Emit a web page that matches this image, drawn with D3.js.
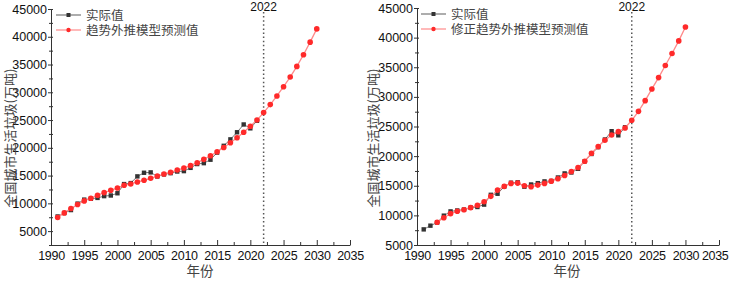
<!DOCTYPE html>
<html>
<head>
<meta charset="utf-8">
<script src="https://cdn.jsdelivr.net/npm/d3@7"></script>
<style>
  body { margin: 0; background: #fff; }
  svg { display: block; }
</style>
</head>
<body>
<svg id="chart" width="729" height="281"></svg>
<script>
// actual municipal solid waste, 1991-2021 (10k tons)
const actualYears = d3.range(1991, 2022);
const actualValues = [7636, 8262, 8791, 9952, 10671, 10825, 10982, 11302, 11415, 11819,
  13470, 13650, 14857, 15509, 15577, 14841, 15215, 15438, 15734, 15805,
  16395, 17081, 17239, 17860, 19142, 20362, 21521, 22802, 24206, 23512, 24869];

// left: trend extrapolation model
const trendYears = d3.range(1991, 2031);
const trendValues = [7460, 8280, 9070, 9790, 10440, 10920, 11460, 11940, 12350, 12770,
  13250, 13490, 13850, 14150, 14510, 14920, 15280, 15580, 16000, 16360,
  16790, 17320, 17920, 18580, 19300, 20070, 20910, 21810, 22810, 23890,
  25000, 26350, 27780, 29340, 31010, 32750, 34660, 36750, 39030, 41420];

// right: corrected trend extrapolation model
const fixedYears = d3.range(1993, 2031);
const fixedValues = [8830, 9610, 10290, 10690, 10960, 11300, 11700, 12310,
  13210, 14270, 14900, 15400, 15450, 15000, 14830, 15110, 15400, 15780,
  16170, 16740, 17410, 18080, 19140, 20480, 21610, 22670, 23570, 24130,
  24750, 26050, 27560, 29360, 31340, 33250, 35290, 37310, 39450, 41790];

const xTicks = d3.range(1990, 2036, 5);
const yTicks = d3.range(5000, 45001, 5000);
const markYear = 2022;

const svg = d3.select('#chart');
const cjk = '"Noto Sans CJK SC", sans-serif';
const num = '"Liberation Sans", Arial, sans-serif';

function drawPanel(cfg) {
  var g = svg.append('g');
  var x = d3.scaleLinear().domain([1990, 2035]).range([cfg.x0, cfg.x1]);
  var y = d3.scaleLinear().domain(cfg.yDomain).range([cfg.y0, cfg.y1]);

  // x axis, ticks pointing inward
  var xa = g.append('g').attr('transform', 'translate(0,' + cfg.y0 + ')');
  xa.call(d3.axisBottom(x).tickValues(xTicks).tickFormat(d3.format('d'))
    .tickSizeInner(-5).tickSizeOuter(0).tickPadding(6));
  xa.selectAll('.tick text').attr('letter-spacing', -0.3);
  if (cfg.x1 > 700) {
    // keep the last label inside the window
    xa.selectAll('.tick text').filter(function (d) { return d === 2035; })
      .attr('text-anchor', 'end').attr('dx', 9);
  }
  xa.append('g').call(d3.axisBottom(x).tickValues(d3.range(1992.5, 2035, 5))
    .tickSizeInner(-3).tickSizeOuter(0).tickFormat(''))
    .select('.domain').remove();

  // y axis, ticks crossing the line
  var ya = g.append('g').attr('transform', 'translate(' + cfg.x0 + ',0)');
  ya.call(d3.axisLeft(y).tickValues(yTicks).tickFormat(d3.format('d'))
    .tickSizeInner(3).tickSizeOuter(0).tickPadding(1));
  var minorY = d3.range(2500, 45001, 2500).filter(function (v) { return v >= cfg.yDomain[0]; });
  ya.append('g').call(d3.axisRight(y).tickValues(minorY).tickSizeInner(2)
    .tickSizeOuter(0).tickFormat('')).select('.domain').remove();
  ya.append('g').call(d3.axisLeft(y).tickValues(minorY.filter(function (v) { return v % 5000; }))
    .tickSizeInner(2).tickSizeOuter(0).tickFormat('')).select('.domain').remove();

  g.selectAll('.domain').attr('stroke', '#333');
  g.selectAll('.tick line').attr('stroke', '#333');
  g.selectAll('.tick text').attr('font-family', num).attr('font-size', 12.5).attr('fill', '#111');

  // dotted line at 2022
  g.append('line')
    .attr('x1', x(markYear)).attr('x2', x(markYear))
    .attr('y1', 12).attr('y2', cfg.y0)
    .attr('stroke', '#555').attr('stroke-width', 1.5)
    .attr('stroke-dasharray', '1.5,2.6');
  g.append('text')
    .attr('x', x(markYear)).attr('y', 11)
    .attr('text-anchor', 'middle')
    .attr('font-family', num).attr('font-size', 12).attr('fill', '#111')
    .text(markYear);

  var line = d3.line()
    .x(function (d) { return x(d[0]); })
    .y(function (d) { return y(d[1]); });

  var actual = d3.zip(actualYears, actualValues);
  var fit = d3.zip(cfg.fitYears, cfg.fitValues);

  g.append('path').datum(actual).attr('d', line)
    .attr('fill', 'none').attr('stroke', '#777').attr('stroke-width', 1);
  g.selectAll('.sq').data(actual).enter().append('rect')
    .attr('x', function (d) { return x(d[0]) - 2.2; })
    .attr('y', function (d) { return y(d[1]) - 2.2; })
    .attr('width', 4.4).attr('height', 4.4)
    .attr('fill', '#333');

  g.append('path').datum(fit).attr('d', line)
    .attr('fill', 'none').attr('stroke', '#ff8a8a').attr('stroke-width', 1.3);
  g.selectAll('.dot').data(fit).enter().append('circle')
    .attr('cx', function (d) { return x(d[0]); })
    .attr('cy', function (d) { return y(d[1]); })
    .attr('r', 2.8)
    .attr('fill', '#ff2a2a');

  // legend
  var items = [
    { label: '实际值', line: '#777', mark: '#333', square: true },
    { label: cfg.fitLabel, line: '#ff8a8a', mark: '#ff2a2a', square: false }
  ];
  items.forEach(function (it, i) {
    var ly = cfg.legendY + i * 15;
    g.append('line')
      .attr('x1', cfg.legendX).attr('x2', cfg.legendX + 25)
      .attr('y1', ly).attr('y2', ly)
      .attr('stroke', it.line).attr('stroke-width', 1.2);
    if (it.square) {
      g.append('rect').attr('x', cfg.legendX + 10.5).attr('y', ly - 2)
        .attr('width', 4).attr('height', 4).attr('fill', it.mark);
    } else {
      g.append('circle').attr('cx', cfg.legendX + 12.5).attr('cy', ly)
        .attr('r', 2.2).attr('fill', it.mark);
    }
    g.append('text')
      .attr('x', cfg.legendX + 30).attr('y', ly + 4.5)
      .attr('font-family', cjk).attr('font-size', 12.5).attr('fill', '#444')
      .text(it.label);
  });

  // axis titles
  g.append('text')
    .attr('transform', 'translate(' + cfg.yTitleX + ',' + 138 + ') rotate(-90)')
    .attr('text-anchor', 'middle')
    .attr('font-family', cjk).attr('font-size', 13).attr('fill', '#444')
    .text('全国城市生活垃圾(万吨)');
  g.append('text')
    .attr('x', cfg.xTitleX).attr('y', 276)
    .attr('text-anchor', 'middle')
    .attr('font-family', cjk).attr('font-size', 13.5).attr('fill', '#444')
    .text('年份');
}

drawPanel({
  x0: 51, x1: 350, y0: 245, y1: 9,
  yDomain: [2500, 45000],
  fitYears: trendYears, fitValues: trendValues,
  fitLabel: '趋势外推模型预测值',
  legendX: 56, legendY: 15,
  yTitleX: 14.5, xTitleX: 200
});

drawPanel({
  x0: 417, x1: 719, y0: 245, y1: 8,
  yDomain: [5000, 45000],
  fitYears: fixedYears, fitValues: fixedValues,
  fitLabel: '修正趋势外推模型预测值',
  legendX: 421, legendY: 14,
  yTitleX: 378, xTitleX: 567
});
</script>
</body>
</html>
